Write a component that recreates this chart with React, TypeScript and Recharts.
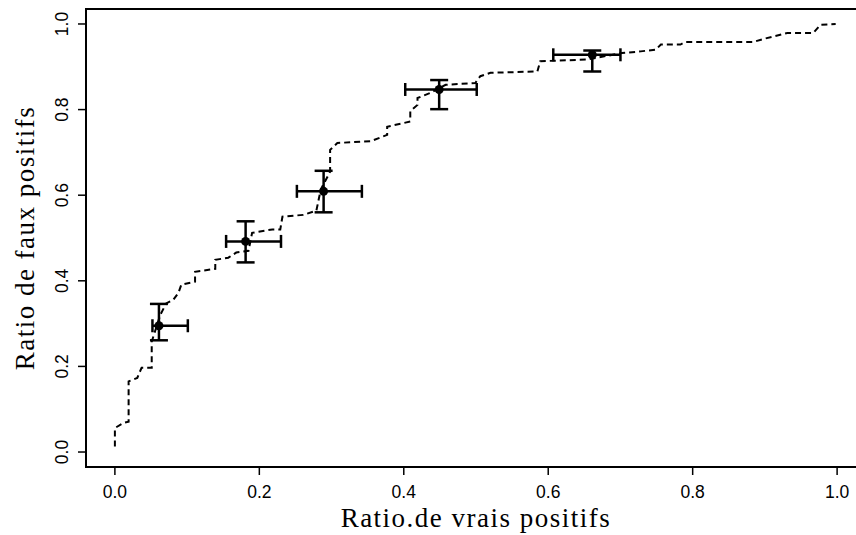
import { ScatterChart, Scatter, XAxis, YAxis, ErrorBar, ReferenceArea } from 'recharts';

// Step curve (dashed)
const curveX = [
  0, 0, 0.012, 0.019, 0.019, 0.031, 0.037, 0.051, 0.051, 0.063,
  0.071, 0.081, 0.088, 0.092, 0.111, 0.111, 0.139, 0.139, 0.157, 0.168,
  0.185, 0.19, 0.218, 0.229, 0.232, 0.261, 0.279, 0.285, 0.298, 0.298,
  0.308, 0.354, 0.377, 0.377, 0.409, 0.409, 0.419, 0.419, 0.437, 0.458,
  0.499, 0.506, 0.52, 0.585, 0.589, 0.654, 0.702, 0.728, 0.749, 0.756,
  0.783, 0.79, 0.884, 0.898, 0.931, 0.967, 0.977, 0.998,
];
const curveY = [
  0.013, 0.056, 0.068, 0.071, 0.165, 0.173, 0.197, 0.197, 0.258, 0.321,
  0.347, 0.356, 0.372, 0.391, 0.398, 0.421, 0.428, 0.449, 0.454, 0.466,
  0.47, 0.512, 0.52, 0.52, 0.55, 0.554, 0.564, 0.613, 0.655, 0.706,
  0.722, 0.726, 0.741, 0.76, 0.772, 0.796, 0.811, 0.827, 0.839, 0.858,
  0.862, 0.878, 0.886, 0.889, 0.913, 0.917, 0.932, 0.936, 0.94, 0.952,
  0.952, 0.958, 0.958, 0.965, 0.979, 0.979, 0.998, 1.0,
];

// Points with error bars
const pointX = [0.061, 0.181, 0.289, 0.449, 0.661];
const pointY = [0.295, 0.492, 0.609, 0.847, 0.928];
const xLow = [0.052, 0.154, 0.252, 0.402, 0.607];
const xHigh = [0.101, 0.23, 0.342, 0.501, 0.7];
const yLow = [0.261, 0.443, 0.56, 0.801, 0.889];
const yHigh = [0.346, 0.539, 0.657, 0.869, 0.938];

const xTicks = [0, 0.2, 0.4, 0.6, 0.8, 1];
const yTicks = [0, 0.2, 0.4, 0.6, 0.8, 1];

const curve = curveX.map((x, i) => ({ x, y: curveY[i] }));
const points = pointX.map((x, i) => ({
  x,
  y: pointY[i],
  ex: [x - xLow[i], xHigh[i] - x],
  ey: [pointY[i] - yLow[i], yHigh[i] - pointY[i]],
}));

const tickFont = { fontFamily: '"Liberation Sans", Arial, sans-serif', fontSize: 17.5, fill: '#000' };
const titleFont = {
  fontFamily: '"Liberation Serif", "Times New Roman", serif',
  fontSize: 27,
  letterSpacing: 1.5,
  fill: '#000',
};

const XTick = ({ x, y, payload }: any) => (
  <text x={x} y={y} dy={21} textAnchor="middle" {...tickFont}>
    {Number(payload.value).toFixed(1)}
  </text>
);

const YTick = ({ x, y, payload }: any) => {
  const cx = x - 14;
  return (
    <text x={cx} y={y} dy="0.35em" textAnchor="middle" transform={`rotate(-90, ${cx}, ${y})`} {...tickFont}>
      {Number(payload.value).toFixed(1)}
    </text>
  );
};

export default function App() {
  return (
    <div style={{ position: 'fixed', left: 0, top: 0, width: 856, height: 535, overflow: 'hidden', background: '#fff' }}>
      <ScatterChart width={880} height={535} margin={{ top: 9, right: 14, bottom: 0, left: 0 }}>
        <XAxis
          type="number"
          dataKey="x"
          domain={[-0.04, 1.04]}
          ticks={xTicks}
          allowDataOverflow
          axisLine={false}
          tickLine={{ stroke: '#000', strokeWidth: 1.5 }}
          tickSize={8}
          tick={<XTick />}
          height={68}
          label={{ value: 'Ratio.de vrais positifs', position: 'insideBottom', offset: 8, style: titleFont }}
        />
        <YAxis
          type="number"
          dataKey="y"
          domain={[-0.035, 1.035]}
          ticks={yTicks}
          allowDataOverflow
          axisLine={false}
          tickLine={{ stroke: '#000', strokeWidth: 1.5 }}
          tickSize={8}
          tick={<YTick />}
          width={86}
          label={{
            value: 'Ratio de faux positifs',
            angle: -90,
            position: 'insideLeft',
            offset: 24,
            style: { ...titleFont, textAnchor: 'middle' },
          }}
        />
        <ReferenceArea x1={-0.04} x2={1.04} y1={-0.035} y2={1.035} fill="none" stroke="#000" strokeWidth={2} />
        <Scatter
          data={curve}
          line={{ stroke: '#000', strokeWidth: 2, strokeDasharray: '6 4' }}
          lineType="joint"
          shape={() => <g />}
          isAnimationActive={false}
        />
        <Scatter
          data={points}
          fill="#000"
          shape={(p: any) => <circle cx={p.cx} cy={p.cy} r={4.5} fill="#000" />}
          isAnimationActive={false}
        >
          <ErrorBar dataKey="ex" direction="x" width={6.5} stroke="#000" strokeWidth={2.5} />
          <ErrorBar dataKey="ey" direction="y" width={9} stroke="#000" strokeWidth={2.5} />
        </Scatter>
      </ScatterChart>
    </div>
  );
}
